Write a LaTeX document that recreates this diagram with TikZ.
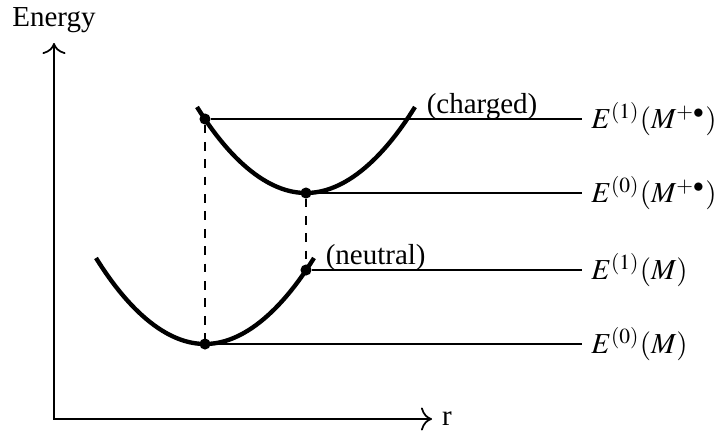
\documentclass[tikz,border=0pt]{standalone}
\usepackage{mathptmx}
\usepackage{fontspec}
\setmainfont{Liberation Serif}
\usepackage{tikz}
\usetikzlibrary{arrows.meta}

\begin{document}
\begin{tikzpicture}[x=0.345pt, y=0.345pt]
    \tikzstyle{stdot} += [draw=black, fill=black, circle, inner sep=0pt, minimum size=3.4pt];
    \tikzstyle{lvl} += [anchor=west, inner sep=3pt];
    \useasboundingbox (-54,-11) rectangle (665,419);
    % axes
    \coordinate (o) at (0,0);
    \coordinate (ytop) at (0,376);
    \coordinate (xend) at (378,0);
    \node (en) at (ytop) [above] {Energy};
    \node (r) at (xend) [right] {r};
    \draw[semithick, {To[scale=1.3]}-{To[scale=1.3]}] (ytop) -- (o) -- (xend);

    % potential curves
    \draw[line width=1.5pt] (143,312) parabola bend (252,226) (361,312)
        node (chg) [right] {(charged)};
    \draw[line width=1.5pt] (42,161) parabola bend (151,75) (260,161)
        node (neu) [right] {(neutral)};

    \node (c1) at (151,300) [stdot]{};
    \node (c0) at (252,226) [stdot]{};
    \node (n1) at (252,149) [stdot]{};
    \node (n0) at (151,75)  [stdot]{};

    \node (Ec1) at (528,300) [lvl] {$E^{(1)}(M^{+\bullet})$};
    \node (Ec0) at (528,226) [lvl] {$E^{(0)}(M^{+\bullet})$};
    \node (En1) at (528,149) [lvl] {$E^{(1)}(M)$};
    \node (En0) at (528,75)  [lvl] {$E^{(0)}(M)$};

    \begin{scope}[thin]
      \draw (c1) -- (Ec1);
      \draw (c0) -- (Ec0);
      \draw (n1) -- (En1);
      \draw (n0) -- (En0);
      \draw[dashed] (c1) -- (n0);
      \draw[dashed] (c0) -- (n1);
    \end{scope}
\end{tikzpicture}
\end{document}
